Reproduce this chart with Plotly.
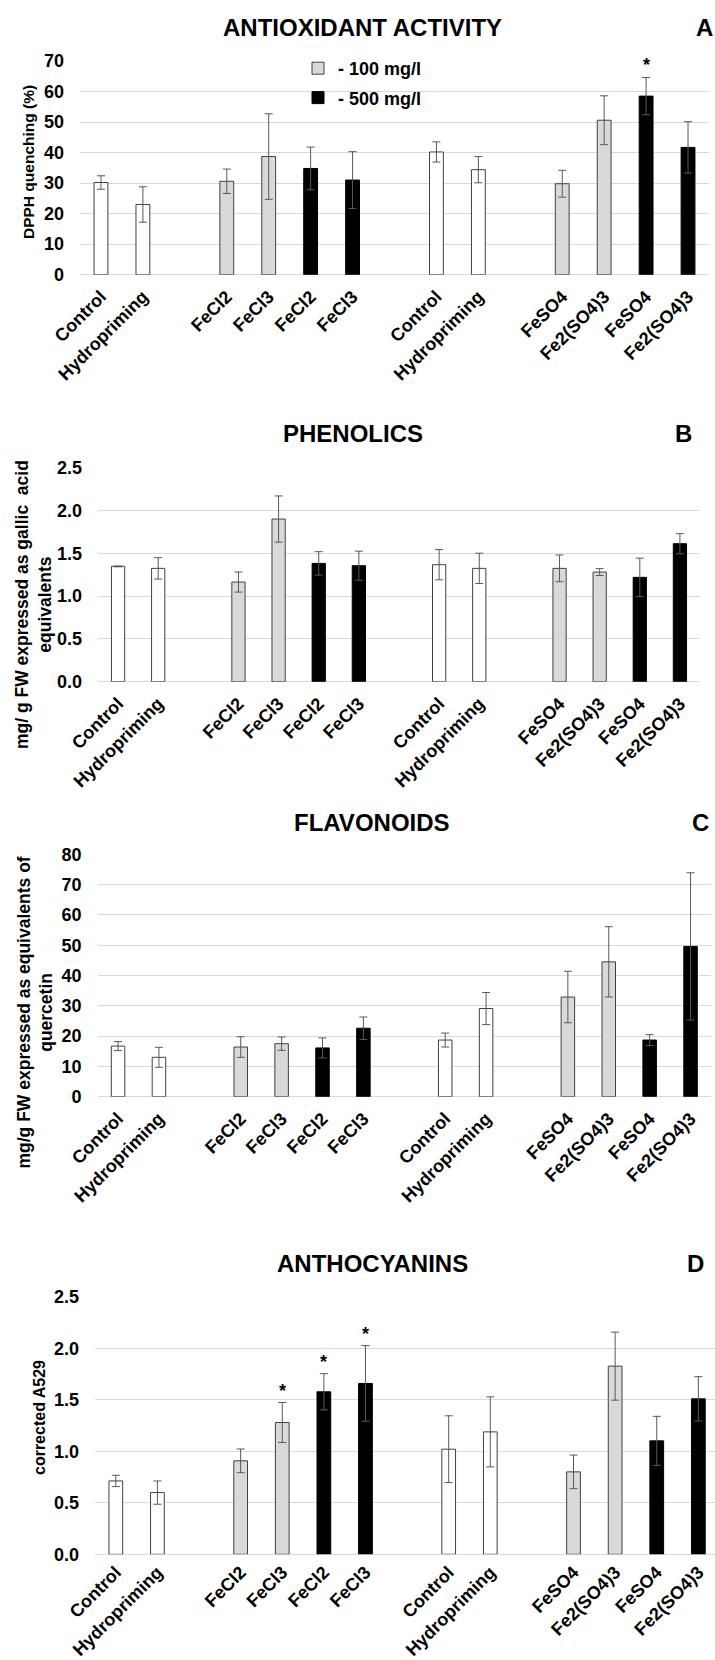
import plotly.graph_objects as go

W, H = 715, 1660
FONT = "Liberation Sans, Arial, sans-serif"

# ---- categories (15 slots, None = gap) ----
slot_labels = ["Control", "Hydropriming", None, "FeCl2", "FeCl3", "FeCl2", "FeCl3", None,
               "Control", "Hydropriming", None, "FeSO4", "Fe2(SO4)3", "FeSO4", "Fe2(SO4)3"]
slot_dose = ["ctrl", "ctrl", None, "100", "100", "500", "500", None,
             "ctrl", "ctrl", None, "100", "100", "500", "500"]

# ---- data (12 bars per panel, in slot order) ----
dpph_mean = [30.2, 23.0, 30.6, 38.7, 34.8, 31.0, 40.2, 34.4, 29.8, 50.6, 58.5, 41.7]
dpph_err = [2.2, 5.8, 4.0, 14.0, 7.0, 9.3, 3.3, 4.3, 4.4, 8.0, 6.1, 8.4]
dpph_sig = [10]

phen_mean = [1.347, 1.324, 1.164, 1.900, 1.382, 1.355, 1.367, 1.324, 1.324, 1.281, 1.219, 1.612]
phen_err = [0.005, 0.125, 0.117, 0.27, 0.137, 0.17, 0.177, 0.177, 0.156, 0.04, 0.224, 0.117]
phen_sig = []

flav_mean = [16.7, 13.0, 16.4, 17.5, 16.1, 22.6, 18.7, 29.1, 32.9, 44.5, 18.7, 49.6]
flav_err = [1.5, 3.3, 3.4, 2.2, 3.3, 3.7, 2.3, 5.3, 8.5, 11.6, 1.8, 24.3]
flav_sig = []

anth_mean = [0.712, 0.599, 0.907, 1.279, 1.577, 1.658, 1.020, 1.188, 0.800, 1.826, 1.101, 1.509]
anth_err = [0.055, 0.113, 0.115, 0.194, 0.176, 0.367, 0.324, 0.34, 0.163, 0.33, 0.238, 0.215]
anth_sig = [3, 4, 5]

panels = [
    dict(title="ANTIOXIDANT ACTIVITY", letter="A", mean=dpph_mean, err=dpph_err, sig=dpph_sig,
         yrange=[0, 70], dtick=10, fmt="d", ytitle="DPPH quenching (%)", ytfs=15.5,
         top=61, bottom=274.7, left=80, right=709, xmax=14.5, xstand=7,
         title_xy=(362, 28), letter_xy=(704, 28), ytitle_xy=(28, 162)),
    dict(title="PHENOLICS", letter="B", mean=phen_mean, err=phen_err, sig=phen_sig,
         yrange=[0, 2.5], dtick=0.5, fmt=".1f",
         ytitle="mg/ g FW expressed as gallic  acid<br>equivalents", ytfs=17.5,
         top=467.7, bottom=681.7, left=98, right=700, xmax=14.5, xstand=7,
         title_xy=(353, 433), letter_xy=(683, 433), ytitle_xy=(33, 605)),
    dict(title="FLAVONOIDS", letter="C", mean=flav_mean, err=flav_err, sig=flav_sig,
         yrange=[0, 80], dtick=10, fmt="d",
         ytitle="mg/g FW expressed as equivalents of<br>quercetin", ytfs=17.5,
         top=854.3, bottom=1096.7, left=97.6, right=711, xmax=14.5, xstand=7,
         title_xy=(372, 822), letter_xy=(700, 822), ytitle_xy=(34.5, 1013)),
    dict(title="ANTHOCYANINS", letter="D", mean=anth_mean, err=anth_err, sig=anth_sig,
         yrange=[0, 2.5], dtick=0.5, fmt=".1f", ytitle="corrected A529", ytfs=16,
         top=1296.7, bottom=1554.3, left=95, right=715, xmax=14.4, xstand=3,
         title_xy=(372, 1263), letter_xy=(695, 1263), ytitle_xy=(39, 1418)),
]

fill = {"ctrl": "#ffffff", "100": "#d9d9d9", "500": "#000000"}
edge = {"ctrl": "#404040", "100": "#404040", "500": "#000000"}
legend_name = {"100": "- 100 mg/l", "500": "- 500 mg/l"}

bar_slots = [i for i, lab in enumerate(slot_labels) if lab is not None]
bar_dose = [slot_dose[i] for i in bar_slots]
tick_text = [slot_labels[i] for i in bar_slots]


def px_x(x):
    return x / W


def px_y(y):
    return 1 - y / H


fig = go.Figure()
annotations = []
layout_axes = {}

for p, pan in enumerate(panels):
    n = "" if p == 0 else str(p + 1)
    xa, ya = "x" + n, "y" + n
    for d in ["ctrl", "100", "500"]:
        idx = [k for k, dd in enumerate(bar_dose) if dd == d]
        fig.add_trace(go.Bar(
            x=[bar_slots[k] for k in idx],
            y=[pan["mean"][k] for k in idx],
            error_y=dict(type="data", array=[pan["err"][k] for k in idx],
                         color="#595959", thickness=1, width=4),
            width=0.33,
            marker=dict(color=fill[d], line=dict(color=edge[d], width=1)),
            name=legend_name.get(d, "control"),
            legendgroup="g" + d,
            showlegend=(p == 0 and d != "ctrl"),
            xaxis=xa, yaxis=ya,
            hoverinfo="skip",
        ))
    layout_axes["xaxis" + n] = dict(
        domain=[px_x(pan["left"]), px_x(pan["right"])],
        range=[-0.5, pan["xmax"]], anchor=ya,
        tickmode="array", tickvals=bar_slots, ticktext=tick_text, tickangle=-45,
        tickfont=dict(family=FONT, size=18, color="black", weight="bold"),
        showgrid=False, zeroline=False, showline=False, ticks="", automargin=False,
        ticklabelstandoff=pan["xstand"],
    )
    layout_axes["yaxis" + n] = dict(
        domain=[px_y(pan["bottom"]), px_y(pan["top"])],
        range=pan["yrange"], dtick=pan["dtick"], tick0=0, anchor=xa,
        tickformat=pan["fmt"],
        tickfont=dict(family=FONT, size=18, color="black", weight="bold"),
        showgrid=True, gridcolor="#d9d9d9", gridwidth=1,
        zeroline=True, zerolinecolor="#d9d9d9", zerolinewidth=1,
        showline=False, ticks="", ticklabelstandoff=15, automargin=False,
    )
    annotations.append(dict(
        text="<b>" + pan["title"] + "</b>", xref="paper", yref="paper",
        x=px_x(pan["title_xy"][0]), y=px_y(pan["title_xy"][1]),
        xanchor="center", yanchor="middle", showarrow=False,
        font=dict(family=FONT, size=24, color="black")))
    annotations.append(dict(
        text="<b>" + pan["letter"] + "</b>", xref="paper", yref="paper",
        x=px_x(pan["letter_xy"][0]), y=px_y(pan["letter_xy"][1]),
        xanchor="center", yanchor="middle", showarrow=False,
        font=dict(family=FONT, size=24, color="black")))
    annotations.append(dict(
        text="<b>" + pan["ytitle"] + "</b>", xref="paper", yref="paper",
        x=px_x(pan["ytitle_xy"][0]), y=px_y(pan["ytitle_xy"][1]),
        xanchor="center", yanchor="middle", textangle=-90, showarrow=False, align="center",
        font=dict(family=FONT, size=pan["ytfs"], color="black")))
    for k in pan["sig"]:
        annotations.append(dict(
            text="<b>*</b>", xref=xa, yref=ya,
            x=bar_slots[k], y=pan["mean"][k] + pan["err"][k],
            xanchor="center", yanchor="bottom", showarrow=False,
            font=dict(family=FONT, size=18, color="black")))

shapes = []
try:
    shapes.append(go.layout.Shape(type="rect", xref="paper", yref="paper",
                                  x0=px_x(297), x1=px_x(465), y0=px_y(138), y1=px_y(52),
                                  fillcolor="white", line=dict(width=0), layer="between"))
except Exception:
    shapes = []

fig.update_layout(
    width=W, height=H, margin=dict(l=0, r=0, t=0, b=0),
    paper_bgcolor="white", plot_bgcolor="white",
    barmode="overlay", annotations=annotations, shapes=shapes,
    showlegend=True,
    legend=dict(x=px_x(298), y=px_y(50), xanchor="left", yanchor="top",
                bgcolor="rgba(255,255,255,0)", traceorder="grouped", tracegroupgap=3,
                font=dict(family=FONT, size=18, color="black", weight="bold")),
    **layout_axes,
)

fig.write_html("out.html", config={"displayModeBar": False},
               post_script="document.body.style.margin='0';document.body.style.overflow='hidden';")
